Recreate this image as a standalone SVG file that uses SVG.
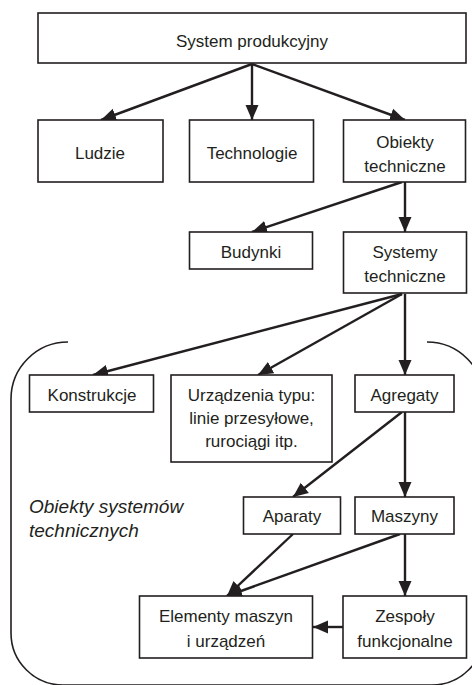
<svg xmlns="http://www.w3.org/2000/svg" width="472" height="685" viewBox="0 0 472 685">
<style>
.box{fill:#fff;stroke:#231f20;stroke-width:1.6}
.t{font-family:"Liberation Sans",Arial,sans-serif;font-size:17px;fill:#231f20;text-anchor:middle}
.it{font-family:"Liberation Sans",Arial,sans-serif;font-size:19px;font-style:italic;fill:#231f20}
.c{stroke:#231f20;stroke-width:2.4;fill:none;marker-end:url(#ah)}
.br{stroke:#231f20;stroke-width:1.6;fill:none}
</style>
<defs>
<marker id="ah" markerUnits="userSpaceOnUse" markerWidth="16" markerHeight="14" viewBox="0 0 16 14" refX="15" refY="7" orient="auto">
<path d="M0,0.5 L15,7 L0,13.5 Z" fill="#231f20"/>
</marker>
</defs>
<rect width="472" height="685" fill="#fff"/>
<path class="br" d="M68,342 A57,57 0 0 0 11,399 L11,633 A52,52 0 0 0 63,685 L432,685 A52,52 0 0 0 484,633 L484,399 A57,57 0 0 0 427,342"/>
<text class="it" x="29" y="513">Obiekty systemów</text>
<text class="it" x="29" y="537">technicznych</text>
<g id="connectors">
<line class="c" x1="252" y1="64" x2="101" y2="120"/>
<line class="c" x1="252" y1="64" x2="252" y2="120"/>
<line class="c" x1="252" y1="64" x2="405" y2="120"/>
<line class="c" x1="402" y1="182" x2="252" y2="232"/>
<line class="c" x1="405" y1="182" x2="405" y2="232"/>
<line class="c" x1="402" y1="294" x2="93" y2="375"/>
<line class="c" x1="402" y1="294" x2="258" y2="375"/>
<line class="c" x1="405" y1="294" x2="405" y2="375"/>
<line class="c" x1="402" y1="412" x2="293" y2="497"/>
<line class="c" x1="405" y1="412" x2="405" y2="497"/>
<line class="c" x1="293" y1="534" x2="227" y2="596"/>
<line class="c" x1="400" y1="534" x2="227" y2="596"/>
<line class="c" x1="405" y1="534" x2="405" y2="596"/>
<line class="c" x1="343" y1="627" x2="313" y2="627"/>
</g>
<g id="system"><rect class="box" x="38" y="13" width="428" height="50"/><text class="t" x="252" y="47">System produkcyjny</text></g>
<g id="ludzie"><rect class="box" x="38" y="120" width="125" height="62"/><text class="t" x="100" y="159">Ludzie</text></g>
<g id="technologie"><rect class="box" x="189.5" y="120" width="124" height="62"/><text class="t" x="252" y="159">Technologie</text></g>
<g id="obiekty"><rect class="box" x="343.5" y="120" width="122" height="62"/><text class="t" x="405" y="148">Obiekty</text><text class="t" x="405" y="172">techniczne</text></g>
<g id="budynki"><rect class="box" x="189.5" y="232" width="123" height="37"/><text class="t" x="251" y="258">Budynki</text></g>
<g id="systemy"><rect class="box" x="343.5" y="232" width="123" height="61"/><text class="t" x="405" y="258">Systemy</text><text class="t" x="405" y="282">techniczne</text></g>
<g id="konstrukcje"><rect class="box" x="29.5" y="375" width="124" height="37"/><text class="t" x="92" y="401">Konstrukcje</text></g>
<g id="urzadzenia"><rect class="box" x="171" y="375" width="161" height="87"/><text class="t" x="251.5" y="401">Urządzenia typu:</text><text class="t" x="251.5" y="424">linie przesyłowe,</text><text class="t" x="251.5" y="447">rurociągi itp.</text></g>
<g id="agregaty"><rect class="box" x="355" y="375" width="99" height="37"/><text class="t" x="404.5" y="401">Agregaty</text></g>
<g id="aparaty"><rect class="box" x="243.5" y="497" width="97" height="37"/><text class="t" x="292" y="522">Aparaty</text></g>
<g id="maszyny"><rect class="box" x="355" y="497" width="99" height="37"/><text class="t" x="404.5" y="522">Maszyny</text></g>
<g id="elementy"><rect class="box" x="139.5" y="596" width="173" height="62"/><text class="t" x="226" y="622">Elementy maszyn</text><text class="t" x="226" y="647">i urządzeń</text></g>
<g id="zespoly"><rect class="box" x="343" y="596" width="123.5" height="62"/><text class="t" x="405" y="622">Zespoły</text><text class="t" x="405" y="647">funkcjonalne</text></g>
</svg>
